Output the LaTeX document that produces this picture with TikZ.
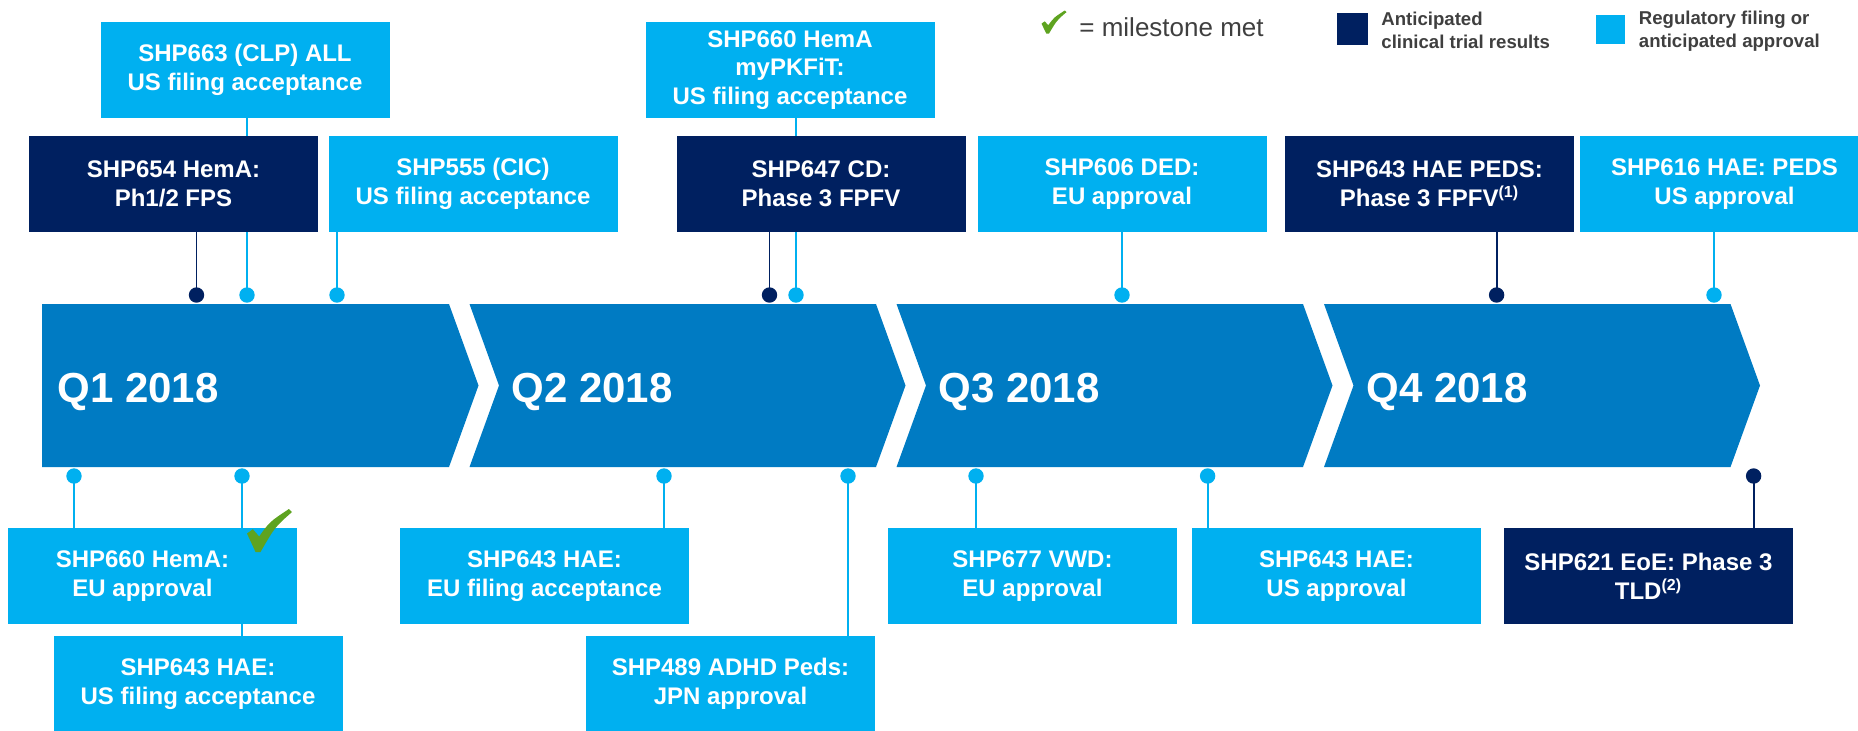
\documentclass[tikz,border=0pt]{standalone}
\usepackage{fontspec}
\setmainfont{Liberation Sans}
\usetikzlibrary{backgrounds}
\definecolor{lightb}{HTML}{00B0F0}
\definecolor{darkb}{HTML}{002060}
\definecolor{chev}{HTML}{007BC3}
\definecolor{chkg}{HTML}{5EA320}
\definecolor{greyt}{HTML}{3F3F3F}
\begin{document}
\begin{tikzpicture}[x=0.5pt,y=-0.5pt,
  boxtext/.style={inner sep=0pt, align=center, text=white, font=\fontsize{12}{14.35}\selectfont\bfseries},
  box/.style={boxtext, minimum width=144.5pt, minimum height=48pt},
  lbox/.style={box, fill=lightb},
  dbox/.style={box, fill=darkb},
  dotL/.style={circle, fill=lightb, inner sep=0pt, minimum size=7.7pt},
  dotD/.style={circle, fill=darkb, inner sep=0pt, minimum size=7.7pt},
  lnL/.style={draw=lightb, line width=0.9pt},
  lnD/.style={draw=darkb, line width=0.9pt},
  qlab/.style={anchor=base west, text=white, inner sep=0pt, font=\fontsize{21}{25}\selectfont\bfseries},
  legtext/.style={anchor=west, inner sep=0pt, align=left, text=greyt, font=\fontsize{9.3}{11.65}\selectfont\bfseries},
  chk/.pic={\fill[chkg] (0.0,0.57) -- (0.13,0.47) -- (0.27,0.64) .. controls (0.5,0.3) .. (0.93,0.0) -- (1.0,0.07) .. controls (0.62,0.42) .. (0.30,1.0) -- (0.19,1.0) -- cycle;},
]
\useasboundingbox (0,0) rectangle (1858,730);
\clip (0,0) rectangle (1858,730);

% chevrons
\fill[chev] (42,304) -- (449,304) -- (478.5,385.5) -- (449,467) -- (42,467) -- cycle;
\foreach \x in {469.5,896.5,1324}{
  \fill[chev] (\x,304) -- ({\x+406.5},304) -- ({\x+436},385.5) -- ({\x+406.5},467) -- (\x,467) -- ({\x+29.5},385.5) -- cycle;
}
\node[qlab] (q1) at (57,402) {Q1 2018};
\node[qlab] (q2) at (511,402) {Q2 2018};
\node[qlab] (q3) at (938,402) {Q3 2018};
\node[qlab] (q4) at (1366,402) {Q4 2018};

% top boxes
\node[lbox] (b663) at (245,70) {SHP663 (CLP) ALL\\US filing acceptance};
\node[lbox] (b660m) at (790,70) {SHP660 HemA\\myPKFiT:\\US filing acceptance};
\node[dbox] (b654) at (173.5,184) {SHP654 HemA:\\Ph1/2 FPS};
\node[lbox] (b555) at (473,184) {SHP555 (CIC)\\US filing acceptance};
\node[dbox] (b647) at (821,184) {SHP647 CD:\\Phase 3 FPFV};
\node[lbox] (b606) at (1122,184) {SHP606 DED:\\EU approval};
\node[dbox] (b643p) at (1429.5,184) {SHP643 HAE PEDS:\\Phase 3 FPFV\textsuperscript{(1)}};
\node[lbox] (b616) at (1724.5,184) {SHP616 HAE: PEDS\\US approval};

% bottom boxes
\node[lbox] (b660e) at (152.5,576) {};
\node[boxtext] (t660e) at (142.5,576) {SHP660 HemA:\\EU approval};
\node[lbox] (b643ef) at (544.5,576) {SHP643 HAE:\\EU filing acceptance};
\node[lbox] (b677) at (1032.5,576) {SHP677 VWD:\\EU approval};
\node[lbox] (b643ua) at (1336.5,576) {SHP643 HAE:\\US approval};
\node[dbox] (b621) at (1648.5,576) {SHP621 EoE: Phase 3\\TLD\textsuperscript{(2)}};
\node[lbox] (b643uf) at (198,684) {SHP643 HAE:\\US filing acceptance};
\node[lbox] (b489) at (730.5,684) {SHP489 ADHD Peds:\\JPN approval};

% dots
\node[dotD] (t654) at (196.5,295) {};
\node[dotL] (t663) at (247,295) {};
\node[dotL] (t555) at (337,295) {};
\node[dotD] (t647) at (769.5,295) {};
\node[dotL] (t660m) at (796,295) {};
\node[dotL] (t606) at (1122,295) {};
\node[dotD] (t643p) at (1496.6,295) {};
\node[dotL] (t616) at (1714,295) {};
\node[dotL] (u660e) at (74,476) {};
\node[dotL] (u643uf) at (242,476) {};
\node[dotL] (u643ef) at (664,476) {};
\node[dotL] (u489) at (848,476) {};
\node[dotL] (u677) at (976,476) {};
\node[dotL] (u643ua) at (1207.6,476) {};
\node[dotD] (u621) at (1753.6,476) {};

% connectors
\begin{pgfonlayer}{background}
\draw[lnD] (t654.center) -- (t654.center |- b654.south);
\draw[lnL] (t663.center) -- (t663.center |- b663.south);
\draw[lnL] (t555.center) -- (t555.center |- b555.south);
\draw[lnD] (t647.center) -- (t647.center |- b647.south);
\draw[lnL] (t660m.center) -- (t660m.center |- b660m.south);
\draw[lnL] (t606.center) -- (t606.center |- b606.south);
\draw[lnD] (t643p.center) -- (t643p.center |- b643p.south);
\draw[lnL] (t616.center) -- (t616.center |- b616.south);
\draw[lnL] (u660e.center) -- (u660e.center |- b660e.north);
\draw[lnL] (u643uf.center) -- (u643uf.center |- b643uf.north);
\draw[lnL] (u643ef.center) -- (u643ef.center |- b643ef.north);
\draw[lnL] (u489.center) -- (u489.center |- b489.north);
\draw[lnL] (u677.center) -- (u677.center |- b677.north);
\draw[lnL] (u643ua.center) -- (u643ua.center |- b643ua.north);
\draw[lnD] (u621.center) -- (u621.center |- b621.north);
\end{pgfonlayer}

% milestone check on box
\pic[xscale=45, yscale=43] at (247,509) {chk};

% legend
\pic[xscale=25, yscale=23] at (1041.5,10.5) {chk};
\node[anchor=base west, inner sep=0pt, text=greyt, font=\fontsize{13}{15}\selectfont] (lmet) at (1079,36.7) {= milestone met};
\node[fill=darkb, minimum width=15.5pt, minimum height=16pt, inner sep=0pt] (ld) at (1352.5,29) {};
\node[legtext] (ldt) at (1381,30) {Anticipated\\clinical trial results};
\node[fill=lightb, minimum width=14.5pt, minimum height=14.5pt, inner sep=0pt] (ll) at (1610.5,29.3) {};
\node[legtext] (llt) at (1638.5,31) {Regulatory filing or\\anticipated approval};
\end{tikzpicture}
\end{document}
